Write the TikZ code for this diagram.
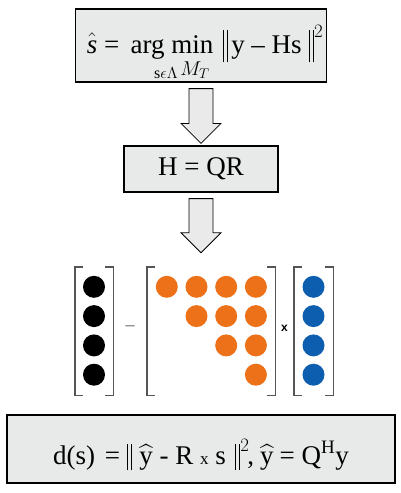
\RequirePackage{fix-cm}
\documentclass[tikz,border=0pt]{standalone}
\usepackage{amsmath}
\usepackage{fontspec}
\setmainfont{Liberation Serif}
\newfontfamily\labelsans{Liberation Sans}
\usetikzlibrary{calc}
\definecolor{boxgray}{RGB}{232,234,234}
\definecolor{arrowgray}{RGB}{234,234,234}
\definecolor{bracketgray}{RGB}{85,85,85}
\definecolor{rorange}{RGB}{236,113,25}
\definecolor{sblue}{RGB}{14,94,176}
\newcommand{\matbrackets}[1]{%
  \draw[bracket] ($(#1.north west)+(8,0)$) -- (#1.north west) -- (#1.south west) -- ++(8,0);
  \draw[bracket] ($(#1.north east)+(-8,0)$) -- (#1.north east) -- (#1.south east) -- ++(-8,0);}
\newcommand{\normbar}[1]{\mathord{\vcenter{\hbox{\rule{1.5pt}{#1}\hspace{2.5pt}\rule{1.5pt}{#1}}}}}
\begin{document}
\begin{tikzpicture}[x=1pt, y=-1pt,
  eqbox/.style={draw, line width=1.2pt, fill=boxgray, inner sep=0pt, font=\fontsize{27}{32}\selectfont},
  blockarr/.style={draw, line width=0.8pt, fill=arrowgray, line join=miter},
  dot/.style={circle, inner sep=0pt, minimum size=22pt},
  bracket/.style={draw=bracketgray, line width=1.4pt},
  matbox/.style={inner sep=0pt, minimum height=128pt}
]
\useasboundingbox (0,0) rectangle (400,493);

% equations
\node[eqbox, minimum width=251pt, minimum height=73pt, text height=25pt, text depth=10pt] (argmin) at (201,45.5)
  {\hspace{8pt}$\hat{\textit{s}}\text{ = }\mathop{\text{arg min}}\hspace{5pt}\normbar{32pt}\hspace{3pt}\text{y – Hs }\normbar{32pt}^{2}$};
\node[anchor=base west, inner sep=0pt, font=\fontsize{16}{16}\selectfont] (argsub) at (154,78)
  {s$\epsilon\Lambda$\,\raisebox{3pt}{\fontsize{20}{20}\selectfont$M_T$}};
\node[eqbox, minimum width=154pt, minimum height=46pt] (qr) at (201,169) {H = QR};

\draw[blockarr] ($(argmin.south)+(-12,6)$) -- ++(24,0) -- ($(qr.north)+(12,-22)$) -- ++(8,0)
  -- ($(qr.north)+(0,-2)$) -- ($(qr.north)+(-20,-22)$) -- ++(8,0) -- cycle;

% matrices
\node[matbox, minimum width=38pt] (ycol) at (94,331) {};
\node[matbox, minimum width=128pt] (rmat) at (211,331) {};
\node[matbox, minimum width=39pt] (scol) at (313.5,331) {};
\matbrackets{ycol}
\matbrackets{rmat}
\matbrackets{scol}

\draw[blockarr] ($(qr.south)+(-12,6)$) -- ++(24,0) -- ($(qr.south |- rmat.north)+(12,-34)$) -- ++(8,0)
  -- ($(qr.south |- rmat.north)+(0,-14)$) -- ($(qr.south |- rmat.north)+(-20,-34)$) -- ++(8,0) -- cycle;

\foreach \i in {0,...,3}
  \node[dot, fill=black] (y\i) at ($(ycol.north)+(0,20+29.3*\i)$) {};
\foreach \i in {0,...,3}
  \foreach \j in {\i,...,3}
    \node[dot, fill=rorange] (r\i\j) at ($(rmat.north west)+(20+29.7*\j,20+29.3*\i)$) {};
\foreach \i in {0,...,3}
  \node[dot, fill=sblue] (s\i) at ($(scol.north)+(0,20+29.3*\i)$) {};

\node[text=bracketgray, font=\fontsize{18}{18}\selectfont, inner sep=0pt] (minus) at (130,328) {–};
\node[font=\labelsans\bfseries\fontsize{12}{12}\selectfont, inner sep=0pt] (times) at ($(rmat.east)!0.5!(scol.west)+(0,-3)$) {x};

\node[eqbox, minimum width=388pt, minimum height=68pt, text height=30pt, text depth=0pt] (dist) at (201,449)
  {$\text{d(s)\hspace{3pt} = }\normbar{26pt}\hspace{7pt}\widehat{\text{y}}\text{ - R {\fontsize{17}{17}\selectfont x} s}\hspace{9pt}\normbar{26pt}^{2}\hspace{-2pt}\text{,}\hspace{6pt}\widehat{\text{y}}\hspace{6pt}\text{= Q}^{\text{\fontsize{19}{19}\selectfont H}}\text{y}$\hspace{10pt}};
\end{tikzpicture}
\end{document}
